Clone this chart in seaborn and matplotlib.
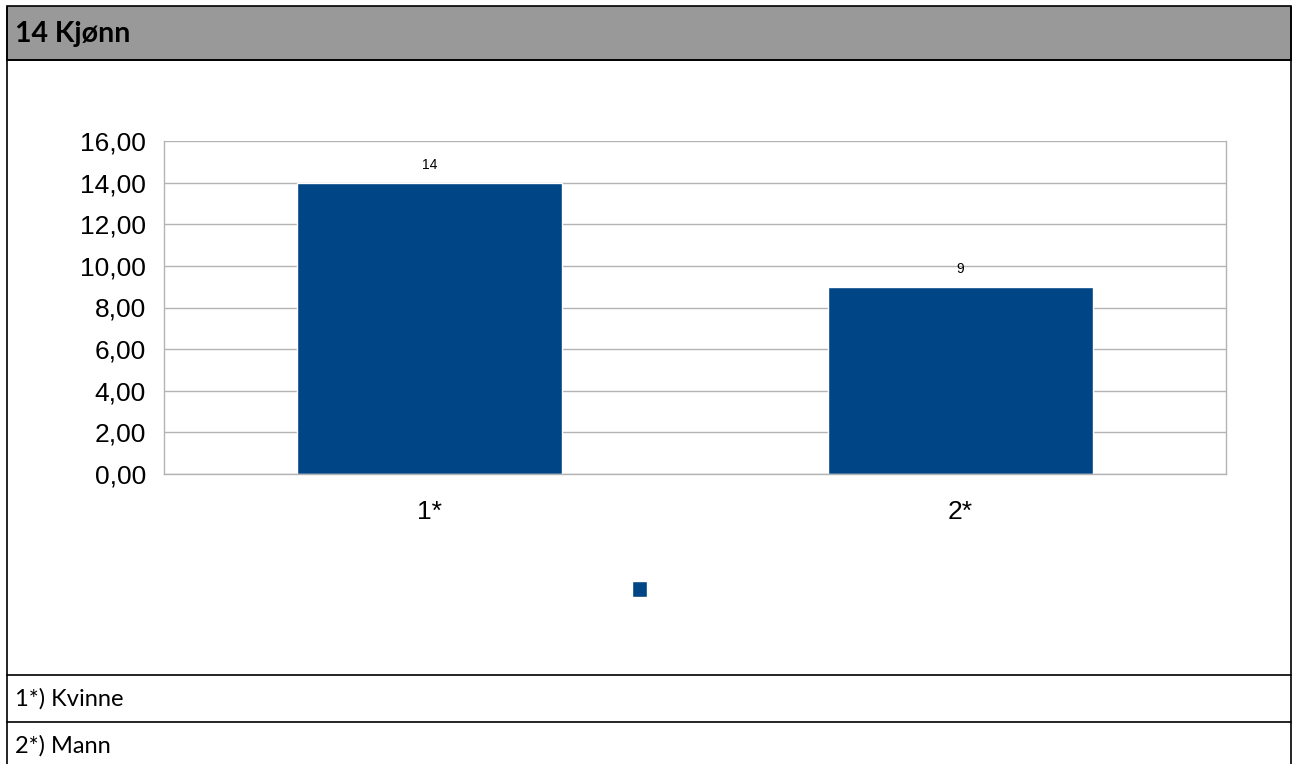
import matplotlib
matplotlib.use("Agg")
import matplotlib.pyplot as plt
import seaborn as sns
import pandas as pd
from matplotlib.patches import Rectangle, Patch
from matplotlib.lines import Line2D
from matplotlib.ticker import FuncFormatter

# data
categories = ["1*", "2*"]
values = [14, 9]
footnotes = ["1*) Kvinne", "2*) Mann"]
title = "14 Kjønn"

bar_color = "#004586"
grid_color = "#b3b3b3"

sns.set_style("white")
plt.rcParams["font.family"] = ["Liberation Sans", "DejaVu Sans"]
plt.rcParams["text.color"] = "black"

df = pd.DataFrame({"cat": categories, "val": values})

fig = plt.figure(figsize=(12.98, 7.64), dpi=100)
ax = fig.add_axes([164 / 1298, 1 - 474 / 764, (1226 - 164) / 1298, (474 - 141) / 764])

sns.barplot(data=df, x="cat", y="val", color=bar_color, saturation=1, width=0.5, ax=ax)

ax.set_xlim(-0.5, 1.5)
ax.set_ylim(0, 16)
ax.set_yticks(range(0, 17, 2))
ax.yaxis.set_major_formatter(FuncFormatter(lambda v, p: f"{v:.2f}".replace(".", ",")))
ax.yaxis.grid(True, color=grid_color, lw=1)
ax.set_axisbelow(True)
ax.set_xlabel("")
ax.set_ylabel("")
for s in ax.spines.values():
    s.set_color(grid_color)
    s.set_linewidth(1)
ax.spines["top"].set_visible(False)

ax.tick_params(axis="y", length=8, color=grid_color, labelsize=19, pad=5, labelcolor="black")
ax.tick_params(axis="x", which="major", length=0, labelsize=19, pad=19, labelcolor="black")
ax.set_xticks([-0.5, 0.5, 1.5], minor=True)
ax.tick_params(axis="x", which="minor", length=8.5, color=grid_color)

ax.bar_label(ax.containers[0], labels=[str(v) for v in values], padding=8, fontsize=10, color="black")

# legend marker without text
leg = fig.legend(handles=[Patch(facecolor=bar_color)], labels=[""], loc="center",
                 bbox_to_anchor=(0.4925, 0.229), frameon=False, fontsize=10,
                 handlelength=1.1, handleheight=1.35, handletextpad=0)

# table frame
x0, x1 = 6.5 / 1298, 1291 / 1298
yt, yh = 1 - 6.5 / 764, 1 - 60 / 764
fig.add_artist(Rectangle((x0, yh), x1 - x0, yt - yh, transform=fig.transFigure,
                         facecolor="#999999", edgecolor="black", lw=1.2))
for y in [yh, 1 - 675 / 764, 1 - 722 / 764]:
    fig.add_artist(Line2D([x0, x1], [y, y], color="black", lw=1.2, transform=fig.transFigure))
for x in [x0, x1]:
    fig.add_artist(Line2D([x, x], [0, yt], color="black", lw=1.2, transform=fig.transFigure))

fig.text(15 / 1298, 1 - 34 / 764, title, fontsize=20.5, fontweight="bold",
         family=["Lato", "DejaVu Sans"], va="center", color="black")
fig.text(15 / 1298, 1 - 699 / 764, footnotes[0], fontsize=17, family=["Lato", "DejaVu Sans"],
         va="center", color="black")
fig.text(15 / 1298, 1 - 746 / 764, footnotes[1], fontsize=17, family=["Lato", "DejaVu Sans"],
         va="center", color="black")

fig.savefig("out.png", dpi=100)
